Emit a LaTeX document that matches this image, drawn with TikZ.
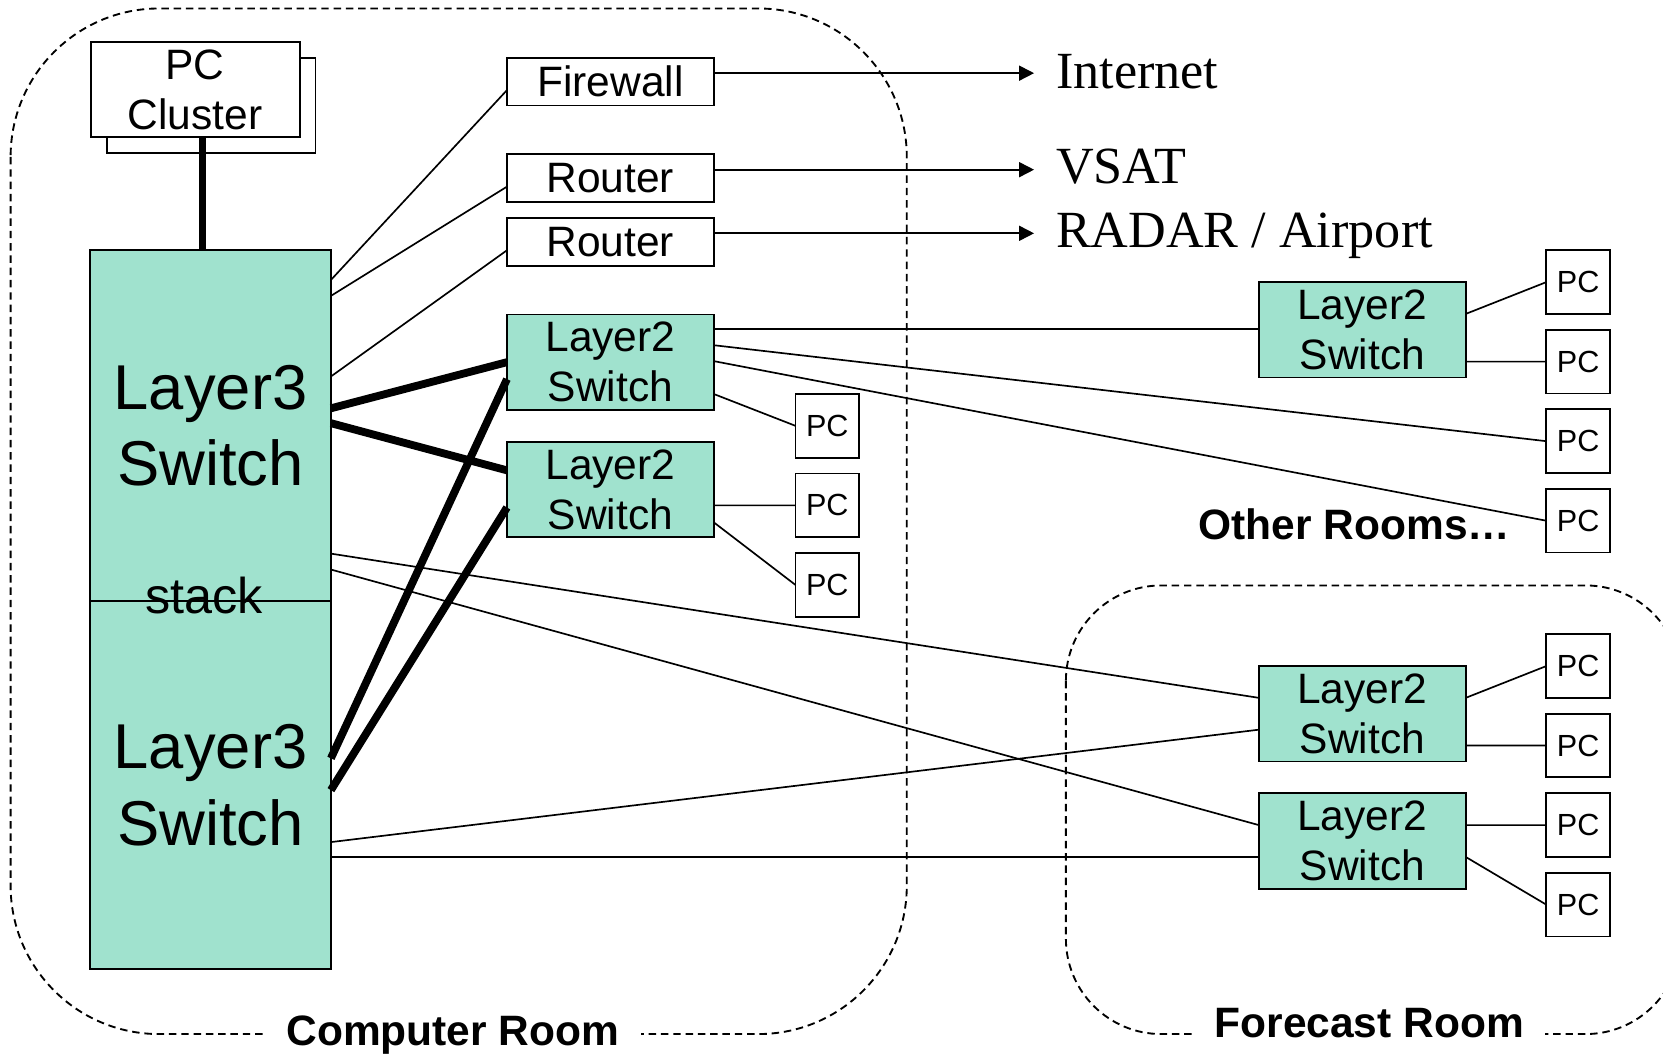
\documentclass[tikz,border=0pt]{standalone}
\usepackage{fontspec}
\setmainfont{Liberation Sans}
\newfontfamily\netfont{Liberation Serif}
\usepackage{tikz}
\usetikzlibrary{arrows.meta, calc, positioning}
\definecolor{swfill}{RGB}{160,226,206}
\tikzstyle{device} = [rectangle, draw=black, line width=0.5pt, fill=white, inner sep=0pt, outer sep=0pt, minimum width=19.5mm, minimum height=4.5mm, align=center, font=\fontsize{11.4}{13.4}\selectfont]
\tikzstyle{lswitch} = [device, fill=swfill, minimum height=9mm]
\tikzstyle{bigswitch} = [device, fill=swfill, minimum width=22.7mm, font=\fontsize{17}{20.5}\selectfont]
\tikzstyle{pcbox} = [device, minimum width=6mm, minimum height=6mm, font=\fontsize{8.2}{9}\selectfont]
\tikzstyle{netlabel} = [inner sep=0pt, font=\netfont\fontsize{14}{16}\selectfont]
\tikzstyle{link} = [line width=0.45pt]
\tikzstyle{trunk} = [line width=2.1pt]
\tikzstyle{arrow} = [line width=0.45pt, -{Triangle[length=4pt,width=4pt]}, shorten >=2mm]
\tikzstyle{room} = [dash pattern=on 2pt off 1.3pt, line width=0.5pt]
\tikzstyle{roomlabel} = [fill=white, inner xsep=2mm, inner ysep=1mm, anchor=base, font=\bfseries\fontsize{11.4}{13}\selectfont]

\begin{document}
\begin{tikzpicture}[x=0.1mm, y=-0.1mm, node distance=1.5mm]
		\useasboundingbox (0,0) rectangle (1568,993);
		% rooms
		\draw [room, rounded corners=14mm] (10,8) rectangle (855,975);
		\draw [room, rounded corners=9mm] (1005,552) rectangle (1585,975);

		\node (pcback) [device, minimum width=19.7mm, minimum height=9mm] at (199,99.5) {};
		\node (pcc) [device, minimum width=19.7mm, minimum height=9mm] at (184,84.5) {PC\\Cluster};
		\node (l3a) [bigswitch, minimum height=33.1mm] at (198.5,401.5) {Layer3\\Switch};
		\node (l3b) [bigswitch, minimum height=34.7mm, below=0mm of l3a] {Layer3\\Switch};
		\node (stack) [inner sep=0pt, anchor=base, font=\fontsize{13.5}{15}\selectfont] at ($(l3a.south)+(-6,11)$) {stack};

		\node (fw) [device] at (575.5,77) {Firewall};
		\node (rt1) [device, below=4.6mm of fw] {Router};
		\node (rt2) [device, below=1.5mm of rt1] {Router};
		\node (l2a) [lswitch, below=4.6mm of rt2] {Layer2\\Switch};
		\node (l2b) [lswitch, below=3mm of l2a] {Layer2\\Switch};
		\node (pc1) [pcbox] at (780,401.5) {PC};
		\node (pc2) [pcbox, below=of pc1] {PC};
		\node (pc3) [pcbox, below=of pc2] {PC};

		\node (inet) [netlabel, anchor=base west] at (995,83) {Internet};
		\node (vsat) [netlabel, anchor=base west] at (995,173) {VSAT};
		\node (radar) [netlabel, anchor=base west] at (995,233) {RADAR / Airport};

		\node (l2o) [lswitch] at (1284.5,311) {Layer2\\Switch};
		\node (po1) [pcbox] at (1488,266) {PC};
		\node (po2) [pcbox, below=of po1] {PC};
		\node (po3) [pcbox, below=of po2] {PC};
		\node (po4) [pcbox, below=of po3] {PC};
		\node (other) [inner sep=0pt, anchor=base, font=\bfseries\fontsize{11.4}{13}\selectfont] at (1277,509) {Other Rooms…};

		\node (l2c) [lswitch] at (1284.5,673) {Layer2\\Switch};
		\node (l2d) [lswitch, below=3mm of l2c] {Layer2\\Switch};
		\node (pf1) [pcbox] at (1488,628) {PC};
		\node (pf2) [pcbox, below=of pf1] {PC};
		\node (pf3) [pcbox, below=of pf2] {PC};
		\node (pf4) [pcbox, below=of pf3] {PC};

		\node (comproom) [roomlabel] at (427,986) {Computer Room};
		\node (fcroom) [roomlabel] at (1291,978) {Forecast Room};

		% ports on the stack
		\coordinate (pccport) at ($(pcc.south)+(7,0)$);
		\coordinate (u1) at ($(l3a.north east)+(0,28)$);
		\coordinate (u2) at ($(l3a.north east)+(0,43)$);
		\coordinate (u3) at ($(l3a.north east)+(0,119)$);
		\coordinate (u4) at ($(l3a.north east)+(0,149)$);
		\coordinate (u5) at ($(l3a.north east)+(0,163)$);
		\coordinate (u6) at ($(l3a.north east)+(0,286)$);
		\coordinate (u7) at ($(l3a.north east)+(0,301)$);
		\coordinate (d1) at ($(l3b.north east)+(0,148)$);
		\coordinate (d2) at ($(l3b.north east)+(0,178)$);
		\coordinate (d3) at ($(l3b.north east)+(0,227)$);
		\coordinate (d4) at ($(l3b.north east)+(0,241)$);
		\coordinate (fwout) at ($(fw.east)+(0,-8)$);
		\coordinate (rt1out) at ($(rt1.east)+(0,-8)$);
		\coordinate (rt2out) at ($(rt2.east)+(0,-8)$);
		\coordinate (a1) at ($(l2a.east)+(0,-31)$);

		\draw [trunk] (pccport) -- (pccport |- l3a.north);
		\draw [arrow] (fwout) -- (fwout -| inet.west);
		\draw [arrow] (rt1out) -- (rt1out -| vsat.west);
		\draw [arrow] (rt2out) -- (rt2out -| radar.west);

		\draw [link] (u1) -- ($(fw.west)+(0,8)$);
		\draw [link] (u2) -- ($(rt1.west)+(0,8)$);
		\draw [link] (u3) -- ($(rt2.west)+(0,8)$);
		\draw [trunk] (u4) -- (l2a.west);
		\draw [trunk] (u5) -- ($(l2b.west)+(0,-18)$);
		\draw [trunk] (d1) -- ($(l2a.west)+(0,16)$);
		\draw [trunk] (d2) -- ($(l2b.west)+(0,17)$);
		\draw [link] (u6) -- ($(l2c.west)+(0,-15)$);
		\draw [link] (u7) -- ($(l2d.west)+(0,-15)$);
		\draw [link] (d3) -- ($(l2c.west)+(0,15)$);
		\draw [link] (d4) -- ($(l2d.west)+(0,15)$);

		\draw [link] (a1) -- (a1 -| l2o.west);
		\draw [link] ($(l2a.east)+(0,-16)$) -- (po3.west);
		\draw [link] ($(l2a.east)+(0,-1)$) -- (po4.west);
		\draw [link] ($(l2a.east)+(0,30)$) -- (pc1.west);
		\draw [link] ($(l2b.east)+(0,15)$) -- (pc2.west);
		\draw [link] ($(l2b.east)+(0,31)$) -- (pc3.west);
		\draw [link] ($(l2o.east)+(0,-15)$) -- (po1.west);
		\draw [link] ($(l2o.east)+(0,30)$) -- (po2.west);
		\draw [link] ($(l2c.east)+(0,-15)$) -- (pf1.west);
		\draw [link] ($(l2c.east)+(0,30)$) -- (pf2.west);
		\draw [link] ($(l2d.east)+(0,-15)$) -- (pf3.west);
		\draw [link] ($(l2d.east)+(0,15)$) -- (pf4.west);
\end{tikzpicture}
\end{document}
